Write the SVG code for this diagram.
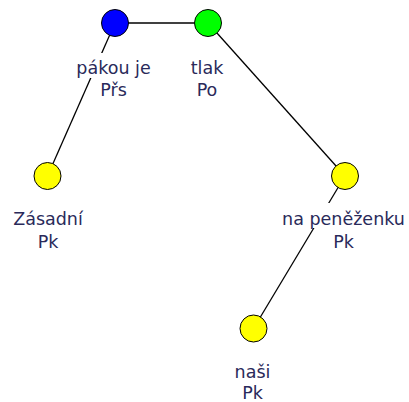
<svg xmlns="http://www.w3.org/2000/svg" width="409" height="402" viewBox="0 0 409 402">
<style>
.edge{stroke:#000;stroke-width:1.3;fill:none}
.node{stroke:#000;stroke-width:1}
.bg{fill:#fff}
.lbl{font-family:"DejaVu Sans",Verdana,sans-serif;font-size:17.5px;fill:#2a2a5a;text-anchor:middle}
</style>
<rect width="409" height="402" fill="#fff"/>
<g id="connectors">
<line class="edge" x1="115" y1="23" x2="208" y2="23"/>
<line class="edge" x1="115" y1="23" x2="47.5" y2="176"/>
<line class="edge" x1="208" y1="23" x2="345" y2="176"/>
<line class="edge" x1="345" y1="176" x2="253.5" y2="328.5"/>
</g>
<g id="n1">
<circle class="node" cx="115" cy="23" r="13.5" fill="#0000ff"/>
<rect class="bg" x="75" y="53" width="78" height="25"/>
<text class="lbl" x="113.5" y="74">pákou je</text>
<text class="lbl" x="113.5" y="96">Přs</text>
</g>
<g id="n2">
<circle class="node" cx="208" cy="23" r="13.5" fill="#00ff00"/>
<text class="lbl" x="207" y="74">tlak</text>
<text class="lbl" x="207" y="96">Po</text>
</g>
<g id="n3">
<circle class="node" cx="47.5" cy="176" r="13.5" fill="#ffff00"/>
<text class="lbl" x="48" y="225">Zásadní</text>
<text class="lbl" x="48" y="248">Pk</text>
</g>
<g id="n4">
<circle class="node" cx="345" cy="176" r="13.5" fill="#ffff00"/>
<rect class="bg" x="281" y="203" width="126" height="25"/>
<text class="lbl" x="343.5" y="225">na peněženku</text>
<text class="lbl" x="343.5" y="248">Pk</text>
</g>
<g id="n5">
<circle class="node" cx="253.5" cy="328.5" r="13.5" fill="#ffff00"/>
<text class="lbl" x="252.5" y="378">naši</text>
<text class="lbl" x="252.5" y="399">Pk</text>
</g>
</svg>
